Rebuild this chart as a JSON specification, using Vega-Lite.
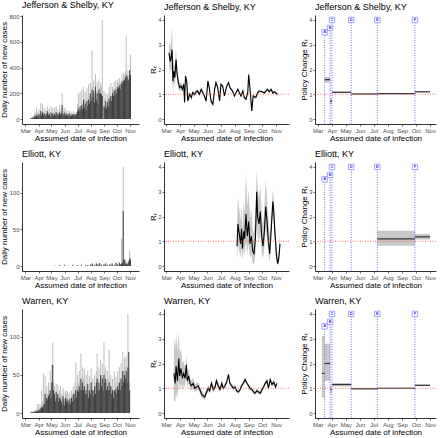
{
"$schema":"https://vega.github.io/schema/vega-lite/v6.json",
"padding":{"left":0,"top":1,"right":1,"bottom":0},
"background":"white",
"config":{
"view":{"stroke":null},
"font":"Liberation Sans",
"title":{"fontSize":9,"fontWeight":"normal","anchor":"start","frame":"group","offset":3,"color":"black"},
"axis":{"grid":false,"domainColor":"black","domainWidth":0.8,"tickColor":"#333","tickSize":2,"tickWidth":0.7,"labelFontSize":6,"labelColor":"#4d4d4d","labelPadding":1,"titleFontSize":8,"titleFontWeight":"normal","titleColor":"black","titlePadding":1,"labelFlush":false,"labelOverlap":false},
"axisY":{"titlePadding":0}
},
"datasets":{
"one":[{"y":1}],
"lab":[{"p":"A","d":"2020-03-16","ly":3.5},{"p":"B","d":"2020-03-28","ly":3.68},{"p":"C","d":"2020-04-01","ly":4.0},{"p":"D","d":"2020-05-13","ly":4.0},{"p":"E","d":"2020-07-09","ly":4.0},{"p":"F","d":"2020-09-29","ly":4.0}],
"pol":[
{"c":"J","d":"2020-03-16","e":"2020-03-28","est":1.59,"lo":1.47,"hi":1.7},
{"c":"J","d":"2020-03-28","e":"2020-04-01","est":0.72,"lo":0.6,"hi":0.84},
{"c":"J","d":"2020-04-01","e":"2020-05-13","est":1.08,"lo":1.05,"hi":1.11},
{"c":"J","d":"2020-05-13","e":"2020-07-09","est":1.01,"lo":0.99,"hi":1.03},
{"c":"J","d":"2020-07-09","e":"2020-09-29","est":1.03,"lo":1.02,"hi":1.04},
{"c":"J","d":"2020-09-29","e":"2020-11-01","est":1.1,"lo":1.08,"hi":1.12},
{"c":"E","d":"2020-07-09","e":"2020-09-29","est":1.1,"lo":0.82,"hi":1.42},
{"c":"E","d":"2020-09-29","e":"2020-11-01","est":1.18,"lo":1.07,"hi":1.3},
{"c":"W","d":"2020-03-10","e":"2020-03-16","est":1.6,"lo":0.62,"hi":3.11},
{"c":"W","d":"2020-03-16","e":"2020-03-28","est":2.0,"lo":1.3,"hi":2.8},
{"c":"W","d":"2020-03-28","e":"2020-04-01","est":0.95,"lo":0.8,"hi":1.1},
{"c":"W","d":"2020-04-01","e":"2020-05-13","est":1.15,"lo":1.08,"hi":1.21},
{"c":"W","d":"2020-05-13","e":"2020-07-09","est":0.98,"lo":0.95,"hi":1.01},
{"c":"W","d":"2020-07-09","e":"2020-09-29","est":1.0,"lo":0.98,"hi":1.02},
{"c":"W","d":"2020-09-29","e":"2020-11-01","est":1.12,"lo":1.09,"hi":1.15}],
"rt":[
{"c":"J","d":"2020-03-07","v":2.67,"lo":2.2,"hi":3.1},
{"c":"J","d":"2020-03-10","v":2.33,"lo":1.9,"hi":2.9},
{"c":"J","d":"2020-03-12","v":2.5,"lo":2.0,"hi":3.2},
{"c":"J","d":"2020-03-14","v":2.8,"lo":1.9,"hi":3.7},
{"c":"J","d":"2020-03-16","v":1.53,"lo":1.05,"hi":2.1},
{"c":"J","d":"2020-03-18","v":1.93,"lo":1.5,"hi":2.45},
{"c":"J","d":"2020-03-20","v":1.67,"lo":1.3,"hi":2.1},
{"c":"J","d":"2020-03-23","v":2.4,"lo":2.0,"hi":2.8},
{"c":"J","d":"2020-03-25","v":1.87,"lo":1.6,"hi":2.2},
{"c":"J","d":"2020-03-28","v":1.47,"lo":1.25,"hi":1.7},
{"c":"J","d":"2020-03-31","v":1.27,"lo":1.1,"hi":1.45},
{"c":"J","d":"2020-04-03","v":1.33,"lo":1.18,"hi":1.48},
{"c":"J","d":"2020-04-06","v":1.2,"lo":1.07,"hi":1.33},
{"c":"J","d":"2020-04-09","v":1.4,"lo":1.27,"hi":1.53},
{"c":"J","d":"2020-04-11","v":0.67,"lo":0.57,"hi":0.77},
{"c":"J","d":"2020-04-13","v":1.73,"lo":1.6,"hi":1.86},
{"c":"J","d":"2020-04-16","v":1.47,"lo":1.35,"hi":1.59},
{"c":"J","d":"2020-04-18","v":0.73,"lo":0.64,"hi":0.82},
{"c":"J","d":"2020-04-22","v":1.0,"lo":0.9,"hi":1.1},
{"c":"J","d":"2020-04-26","v":0.87,"lo":0.78,"hi":0.96},
{"c":"J","d":"2020-04-29","v":1.07,"lo":0.98,"hi":1.16},
{"c":"J","d":"2020-05-03","v":1.0,"lo":0.92,"hi":1.08},
{"c":"J","d":"2020-05-07","v":1.1,"lo":1.02,"hi":1.18},
{"c":"J","d":"2020-05-10","v":1.13,"lo":1.05,"hi":1.21},
{"c":"J","d":"2020-05-14","v":1.0,"lo":0.92,"hi":1.08},
{"c":"J","d":"2020-05-18","v":1.2,"lo":1.12,"hi":1.28},
{"c":"J","d":"2020-05-22","v":1.05,"lo":0.97,"hi":1.13},
{"c":"J","d":"2020-05-25","v":0.93,"lo":0.85,"hi":1.01},
{"c":"J","d":"2020-05-29","v":0.73,"lo":0.65,"hi":0.81},
{"c":"J","d":"2020-06-02","v":1.53,"lo":1.43,"hi":1.63},
{"c":"J","d":"2020-06-05","v":1.27,"lo":1.18,"hi":1.36},
{"c":"J","d":"2020-06-09","v":0.73,"lo":0.65,"hi":0.81},
{"c":"J","d":"2020-06-13","v":0.6,"lo":0.52,"hi":0.68},
{"c":"J","d":"2020-06-17","v":1.2,"lo":1.11,"hi":1.29},
{"c":"J","d":"2020-06-20","v":1.47,"lo":1.38,"hi":1.56},
{"c":"J","d":"2020-06-24","v":1.27,"lo":1.19,"hi":1.35},
{"c":"J","d":"2020-06-28","v":0.73,"lo":0.66,"hi":0.8},
{"c":"J","d":"2020-07-01","v":1.4,"lo":1.33,"hi":1.47},
{"c":"J","d":"2020-07-05","v":1.33,"lo":1.27,"hi":1.39},
{"c":"J","d":"2020-07-09","v":0.93,"lo":0.88,"hi":0.98},
{"c":"J","d":"2020-07-13","v":1.27,"lo":1.21,"hi":1.33},
{"c":"J","d":"2020-07-18","v":1.47,"lo":1.41,"hi":1.53},
{"c":"J","d":"2020-07-21","v":1.27,"lo":1.21,"hi":1.33},
{"c":"J","d":"2020-07-27","v":1.13,"lo":1.08,"hi":1.18},
{"c":"J","d":"2020-07-31","v":0.93,"lo":0.88,"hi":0.98},
{"c":"J","d":"2020-08-04","v":1.07,"lo":1.02,"hi":1.12},
{"c":"J","d":"2020-08-08","v":1.2,"lo":1.15,"hi":1.25},
{"c":"J","d":"2020-08-11","v":1.07,"lo":1.02,"hi":1.12},
{"c":"J","d":"2020-08-15","v":0.93,"lo":0.88,"hi":0.98},
{"c":"J","d":"2020-08-19","v":1.13,"lo":1.08,"hi":1.18},
{"c":"J","d":"2020-08-22","v":0.87,"lo":0.82,"hi":0.92},
{"c":"J","d":"2020-08-26","v":0.8,"lo":0.75,"hi":0.85},
{"c":"J","d":"2020-08-30","v":1.07,"lo":1.01,"hi":1.13},
{"c":"J","d":"2020-09-01","v":1.8,"lo":1.72,"hi":1.88},
{"c":"J","d":"2020-09-04","v":1.2,"lo":1.13,"hi":1.27},
{"c":"J","d":"2020-09-08","v":0.33,"lo":0.27,"hi":0.39},
{"c":"J","d":"2020-09-11","v":0.93,"lo":0.87,"hi":0.99},
{"c":"J","d":"2020-09-17","v":0.87,"lo":0.82,"hi":0.92},
{"c":"J","d":"2020-09-21","v":1.07,"lo":1.02,"hi":1.12},
{"c":"J","d":"2020-09-25","v":1.13,"lo":1.08,"hi":1.18},
{"c":"J","d":"2020-10-01","v":1.1,"lo":1.05,"hi":1.15},
{"c":"J","d":"2020-10-06","v":1.05,"lo":1.0,"hi":1.1},
{"c":"J","d":"2020-10-10","v":1.15,"lo":1.1,"hi":1.2},
{"c":"J","d":"2020-10-13","v":1.2,"lo":1.15,"hi":1.25},
{"c":"J","d":"2020-10-17","v":1.1,"lo":1.05,"hi":1.15},
{"c":"J","d":"2020-10-21","v":1.2,"lo":1.15,"hi":1.25},
{"c":"J","d":"2020-10-25","v":1.05,"lo":1.0,"hi":1.1},
{"c":"J","d":"2020-10-28","v":1.1,"lo":1.05,"hi":1.15},
{"c":"J","d":"2020-11-04","v":1.0,"lo":0.95,"hi":1.05},
{"c":"E","d":"2020-08-06","v":0.8,"lo":0.25,"hi":1.6},
{"c":"E","d":"2020-08-08","v":1.7,"lo":0.9,"hi":2.8},
{"c":"E","d":"2020-08-11","v":1.3,"lo":0.6,"hi":2.3},
{"c":"E","d":"2020-08-14","v":0.9,"lo":0.35,"hi":1.8},
{"c":"E","d":"2020-08-16","v":1.5,"lo":0.8,"hi":2.5},
{"c":"E","d":"2020-08-18","v":0.7,"lo":0.25,"hi":1.5},
{"c":"E","d":"2020-08-21","v":1.4,"lo":0.7,"hi":2.6},
{"c":"E","d":"2020-08-23","v":1.1,"lo":0.45,"hi":2.1},
{"c":"E","d":"2020-08-26","v":2.1,"lo":1.0,"hi":3.8},
{"c":"E","d":"2020-08-29","v":1.2,"lo":0.5,"hi":2.4},
{"c":"E","d":"2020-09-01","v":1.8,"lo":0.9,"hi":3.1},
{"c":"E","d":"2020-09-04","v":0.9,"lo":0.3,"hi":1.9},
{"c":"E","d":"2020-09-07","v":1.2,"lo":0.5,"hi":2.3},
{"c":"E","d":"2020-09-10","v":0.6,"lo":0.1,"hi":1.5},
{"c":"E","d":"2020-09-13","v":0.5,"lo":0.05,"hi":1.3},
{"c":"E","d":"2020-09-16","v":1.1,"lo":0.5,"hi":2.2},
{"c":"E","d":"2020-09-19","v":3.0,"lo":1.9,"hi":3.9},
{"c":"E","d":"2020-09-21","v":2.0,"lo":1.2,"hi":3.2},
{"c":"E","d":"2020-09-24","v":1.7,"lo":1.0,"hi":2.7},
{"c":"E","d":"2020-09-27","v":2.2,"lo":1.4,"hi":3.3},
{"c":"E","d":"2020-09-30","v":1.2,"lo":0.6,"hi":2.1},
{"c":"E","d":"2020-10-03","v":0.8,"lo":0.3,"hi":1.6},
{"c":"E","d":"2020-10-06","v":1.4,"lo":0.7,"hi":2.4},
{"c":"E","d":"2020-10-09","v":2.4,"lo":1.5,"hi":3.5},
{"c":"E","d":"2020-10-12","v":1.8,"lo":1.1,"hi":2.7},
{"c":"E","d":"2020-10-15","v":1.0,"lo":0.45,"hi":1.8},
{"c":"E","d":"2020-10-18","v":0.5,"lo":0.15,"hi":1.1},
{"c":"E","d":"2020-10-25","v":2.6,"lo":2.2,"hi":3.1},
{"c":"E","d":"2020-10-27","v":2.2,"lo":1.8,"hi":2.7},
{"c":"E","d":"2020-10-29","v":1.5,"lo":1.1,"hi":2.0},
{"c":"E","d":"2020-10-31","v":1.0,"lo":0.6,"hi":1.5},
{"c":"E","d":"2020-11-02","v":0.4,"lo":0.15,"hi":0.8},
{"c":"E","d":"2020-11-05","v":0.1,"lo":0.02,"hi":0.3},
{"c":"E","d":"2020-11-07","v":0.3,"lo":0.1,"hi":0.6},
{"c":"E","d":"2020-11-10","v":0.9,"lo":0.5,"hi":1.3},
{"c":"W","d":"2020-03-18","v":1.6,"lo":0.5,"hi":3.0},
{"c":"W","d":"2020-03-21","v":1.2,"lo":0.45,"hi":2.6},
{"c":"W","d":"2020-03-23","v":1.9,"lo":0.8,"hi":3.2},
{"c":"W","d":"2020-03-26","v":1.3,"lo":0.6,"hi":2.5},
{"c":"W","d":"2020-03-29","v":2.2,"lo":1.3,"hi":3.3},
{"c":"W","d":"2020-03-31","v":1.5,"lo":0.9,"hi":2.4},
{"c":"W","d":"2020-04-03","v":1.8,"lo":1.2,"hi":2.6},
{"c":"W","d":"2020-04-06","v":1.4,"lo":0.95,"hi":2.0},
{"c":"W","d":"2020-04-09","v":1.6,"lo":1.15,"hi":2.1},
{"c":"W","d":"2020-04-12","v":1.4,"lo":1.05,"hi":1.8},
{"c":"W","d":"2020-04-15","v":1.95,"lo":1.55,"hi":2.35},
{"c":"W","d":"2020-04-17","v":1.3,"lo":1.0,"hi":1.6},
{"c":"W","d":"2020-04-20","v":1.5,"lo":1.22,"hi":1.8},
{"c":"W","d":"2020-04-23","v":1.2,"lo":0.98,"hi":1.45},
{"c":"W","d":"2020-04-26","v":1.1,"lo":0.9,"hi":1.32},
{"c":"W","d":"2020-04-30","v":1.2,"lo":1.0,"hi":1.4},
{"c":"W","d":"2020-05-04","v":1.0,"lo":0.85,"hi":1.17},
{"c":"W","d":"2020-05-08","v":1.05,"lo":0.9,"hi":1.2},
{"c":"W","d":"2020-05-11","v":1.1,"lo":0.95,"hi":1.25},
{"c":"W","d":"2020-05-15","v":0.95,"lo":0.8,"hi":1.1},
{"c":"W","d":"2020-05-19","v":0.75,"lo":0.62,"hi":0.9},
{"c":"W","d":"2020-05-22","v":0.7,"lo":0.58,"hi":0.84},
{"c":"W","d":"2020-05-26","v":0.65,"lo":0.53,"hi":0.78},
{"c":"W","d":"2020-05-30","v":0.85,"lo":0.72,"hi":0.98},
{"c":"W","d":"2020-06-03","v":1.0,"lo":0.87,"hi":1.13},
{"c":"W","d":"2020-06-06","v":0.9,"lo":0.78,"hi":1.02},
{"c":"W","d":"2020-06-10","v":1.2,"lo":1.06,"hi":1.34},
{"c":"W","d":"2020-06-14","v":0.95,"lo":0.83,"hi":1.07},
{"c":"W","d":"2020-06-18","v":1.05,"lo":0.93,"hi":1.17},
{"c":"W","d":"2020-06-21","v":1.3,"lo":1.17,"hi":1.43},
{"c":"W","d":"2020-06-25","v":1.1,"lo":0.98,"hi":1.22},
{"c":"W","d":"2020-06-29","v":0.95,"lo":0.85,"hi":1.05},
{"c":"W","d":"2020-07-03","v":1.2,"lo":1.09,"hi":1.31},
{"c":"W","d":"2020-07-06","v":1.0,"lo":0.9,"hi":1.1},
{"c":"W","d":"2020-07-10","v":1.1,"lo":1.0,"hi":1.2},
{"c":"W","d":"2020-07-14","v":1.25,"lo":1.14,"hi":1.36},
{"c":"W","d":"2020-07-18","v":1.55,"lo":1.43,"hi":1.67},
{"c":"W","d":"2020-07-21","v":1.2,"lo":1.1,"hi":1.3},
{"c":"W","d":"2020-07-25","v":1.1,"lo":1.0,"hi":1.2},
{"c":"W","d":"2020-07-29","v":1.0,"lo":0.91,"hi":1.09},
{"c":"W","d":"2020-08-02","v":1.05,"lo":0.96,"hi":1.14},
{"c":"W","d":"2020-08-05","v":0.9,"lo":0.82,"hi":0.98},
{"c":"W","d":"2020-08-09","v":0.85,"lo":0.77,"hi":0.93},
{"c":"W","d":"2020-08-13","v":0.95,"lo":0.87,"hi":1.03},
{"c":"W","d":"2020-08-16","v":1.1,"lo":1.01,"hi":1.19},
{"c":"W","d":"2020-08-20","v":1.2,"lo":1.11,"hi":1.29},
{"c":"W","d":"2020-08-24","v":1.35,"lo":1.25,"hi":1.45},
{"c":"W","d":"2020-08-28","v":1.2,"lo":1.11,"hi":1.29},
{"c":"W","d":"2020-09-01","v":1.1,"lo":1.02,"hi":1.18},
{"c":"W","d":"2020-09-04","v":1.0,"lo":0.92,"hi":1.08},
{"c":"W","d":"2020-09-08","v":0.95,"lo":0.87,"hi":1.03},
{"c":"W","d":"2020-09-12","v":0.85,"lo":0.77,"hi":0.93},
{"c":"W","d":"2020-09-15","v":0.8,"lo":0.72,"hi":0.88},
{"c":"W","d":"2020-09-19","v":0.9,"lo":0.82,"hi":0.98},
{"c":"W","d":"2020-09-23","v":0.85,"lo":0.77,"hi":0.93},
{"c":"W","d":"2020-09-27","v":0.8,"lo":0.72,"hi":0.88},
{"c":"W","d":"2020-10-01","v":0.95,"lo":0.87,"hi":1.03},
{"c":"W","d":"2020-10-04","v":1.05,"lo":0.97,"hi":1.13},
{"c":"W","d":"2020-10-08","v":1.2,"lo":1.11,"hi":1.29},
{"c":"W","d":"2020-10-12","v":1.3,"lo":1.2,"hi":1.4},
{"c":"W","d":"2020-10-15","v":1.0,"lo":0.92,"hi":1.08},
{"c":"W","d":"2020-10-19","v":1.35,"lo":1.25,"hi":1.45},
{"c":"W","d":"2020-10-23","v":1.15,"lo":1.06,"hi":1.24},
{"c":"W","d":"2020-10-27","v":1.25,"lo":1.15,"hi":1.35},
{"c":"W","d":"2020-10-31","v":1.05,"lo":0.97,"hi":1.13},
{"c":"W","d":"2020-11-03","v":1.2,"lo":1.1,"hi":1.3}],
"bars":[
{"c":"J","d":"2020-03-09","l":2,"k":0},{"c":"J","d":"2020-03-11","l":5,"k":1},{"c":"J","d":"2020-03-13","l":8,"k":3},{"c":"J","d":"2020-03-15","l":15,"k":5},{"c":"J","d":"2020-03-17","l":12,"k":8},{"c":"J","d":"2020-03-19","l":25,"k":10},{"c":"J","d":"2020-03-21","l":30,"k":15},{"c":"J","d":"2020-03-23","l":60,"k":20},{"c":"J","d":"2020-03-25","l":40,"k":25},{"c":"J","d":"2020-03-27","l":90,"k":30},{"c":"J","d":"2020-03-29","l":50,"k":20},{"c":"J","d":"2020-03-31","l":70,"k":35},
{"c":"J","d":"2020-04-02","l":30,"k":20},{"c":"J","d":"2020-04-04","l":80,"k":40},{"c":"J","d":"2020-04-06","l":125,"k":60},{"c":"J","d":"2020-04-08","l":60,"k":30},{"c":"J","d":"2020-04-10","l":115,"k":50},{"c":"J","d":"2020-04-12","l":50,"k":30},{"c":"J","d":"2020-04-14","l":90,"k":45},{"c":"J","d":"2020-04-16","l":40,"k":20},{"c":"J","d":"2020-04-18","l":70,"k":35},{"c":"J","d":"2020-04-20","l":60,"k":40},{"c":"J","d":"2020-04-22","l":100,"k":60},{"c":"J","d":"2020-04-24","l":50,"k":30},{"c":"J","d":"2020-04-26","l":80,"k":40},{"c":"J","d":"2020-04-28","l":30,"k":20},{"c":"J","d":"2020-04-30","l":100,"k":50},
{"c":"J","d":"2020-05-02","l":55,"k":30},{"c":"J","d":"2020-05-04","l":85,"k":45},{"c":"J","d":"2020-05-06","l":40,"k":25},{"c":"J","d":"2020-05-08","l":90,"k":40},{"c":"J","d":"2020-05-10","l":60,"k":30},{"c":"J","d":"2020-05-12","l":100,"k":55},{"c":"J","d":"2020-05-14","l":45,"k":25},{"c":"J","d":"2020-05-16","l":75,"k":40},{"c":"J","d":"2020-05-18","l":50,"k":30},{"c":"J","d":"2020-05-20","l":110,"k":50},{"c":"J","d":"2020-05-22","l":60,"k":35},{"c":"J","d":"2020-05-24","l":80,"k":45},{"c":"J","d":"2020-05-26","l":200,"k":110},{"c":"J","d":"2020-05-28","l":90,"k":40},{"c":"J","d":"2020-05-30","l":60,"k":30},
{"c":"J","d":"2020-06-01","l":85,"k":50},{"c":"J","d":"2020-06-03","l":40,"k":25},{"c":"J","d":"2020-06-05","l":70,"k":40},{"c":"J","d":"2020-06-07","l":45,"k":30},{"c":"J","d":"2020-06-09","l":60,"k":35},{"c":"J","d":"2020-06-11","l":40,"k":25},{"c":"J","d":"2020-06-13","l":65,"k":45},{"c":"J","d":"2020-06-15","l":35,"k":20},{"c":"J","d":"2020-06-17","l":50,"k":30},{"c":"J","d":"2020-06-19","l":45,"k":30},{"c":"J","d":"2020-06-21","l":60,"k":40},{"c":"J","d":"2020-06-23","l":40,"k":30},{"c":"J","d":"2020-06-25","l":50,"k":35},{"c":"J","d":"2020-06-27","l":45,"k":30},{"c":"J","d":"2020-06-29","l":55,"k":40},
{"c":"J","d":"2020-07-01","l":120,"k":60},{"c":"J","d":"2020-07-03","l":200,"k":80},{"c":"J","d":"2020-07-05","l":90,"k":60},{"c":"J","d":"2020-07-07","l":210,"k":100},{"c":"J","d":"2020-07-09","l":100,"k":70},{"c":"J","d":"2020-07-11","l":230,"k":110},{"c":"J","d":"2020-07-13","l":120,"k":80},{"c":"J","d":"2020-07-15","l":250,"k":150},{"c":"J","d":"2020-07-17","l":150,"k":90},{"c":"J","d":"2020-07-19","l":210,"k":120},{"c":"J","d":"2020-07-21","l":120,"k":70},{"c":"J","d":"2020-07-23","l":240,"k":140},{"c":"J","d":"2020-07-25","l":160,"k":100},{"c":"J","d":"2020-07-27","l":270,"k":150},{"c":"J","d":"2020-07-29","l":180,"k":120},{"c":"J","d":"2020-07-31","l":280,"k":200},
{"c":"J","d":"2020-08-02","l":200,"k":140},{"c":"J","d":"2020-08-04","l":530,"k":230},{"c":"J","d":"2020-08-06","l":250,"k":170},{"c":"J","d":"2020-08-08","l":300,"k":220},{"c":"J","d":"2020-08-10","l":200,"k":130},{"c":"J","d":"2020-08-12","l":350,"k":250},{"c":"J","d":"2020-08-14","l":220,"k":150},{"c":"J","d":"2020-08-16","l":290,"k":200},{"c":"J","d":"2020-08-18","l":180,"k":120},{"c":"J","d":"2020-08-20","l":310,"k":230},{"c":"J","d":"2020-08-22","l":240,"k":200},{"c":"J","d":"2020-08-24","l":280,"k":200},{"c":"J","d":"2020-08-26","l":250,"k":190},{"c":"J","d":"2020-08-28","l":770,"k":180},{"c":"J","d":"2020-08-30","l":0,"k":0},
{"c":"J","d":"2020-09-01","l":220,"k":100},{"c":"J","d":"2020-09-03","l":160,"k":90},{"c":"J","d":"2020-09-05","l":200,"k":140},{"c":"J","d":"2020-09-07","l":100,"k":80},{"c":"J","d":"2020-09-09","l":190,"k":130},{"c":"J","d":"2020-09-11","l":150,"k":100},{"c":"J","d":"2020-09-13","l":250,"k":160},{"c":"J","d":"2020-09-15","l":200,"k":140},{"c":"J","d":"2020-09-17","l":280,"k":180},{"c":"J","d":"2020-09-19","l":180,"k":140},{"c":"J","d":"2020-09-21","l":250,"k":200},{"c":"J","d":"2020-09-23","l":230,"k":180},{"c":"J","d":"2020-09-25","l":290,"k":220},{"c":"J","d":"2020-09-27","l":210,"k":190},{"c":"J","d":"2020-09-29","l":300,"k":230},
{"c":"J","d":"2020-10-01","l":250,"k":200},{"c":"J","d":"2020-10-03","l":310,"k":250},{"c":"J","d":"2020-10-05","l":280,"k":240},{"c":"J","d":"2020-10-07","l":320,"k":260},{"c":"J","d":"2020-10-09","l":270,"k":230},{"c":"J","d":"2020-10-11","l":300,"k":270},{"c":"J","d":"2020-10-13","l":350,"k":290},{"c":"J","d":"2020-10-15","l":310,"k":280},{"c":"J","d":"2020-10-17","l":360,"k":300},{"c":"J","d":"2020-10-19","l":330,"k":300},{"c":"J","d":"2020-10-21","l":370,"k":320},{"c":"J","d":"2020-10-23","l":650,"k":340},{"c":"J","d":"2020-10-25","l":350,"k":330},{"c":"J","d":"2020-10-27","l":380,"k":310},{"c":"J","d":"2020-10-29","l":340,"k":300},{"c":"J","d":"2020-10-31","l":360,"k":380},{"c":"J","d":"2020-11-02","l":500,"k":340},
{"c":"E","d":"2020-05-10","l":1,"k":0},{"c":"E","d":"2020-05-20","l":1,"k":1},{"c":"E","d":"2020-06-01","l":2,"k":1},{"c":"E","d":"2020-06-10","l":1,"k":0},{"c":"E","d":"2020-06-20","l":2,"k":1},{"c":"E","d":"2020-07-01","l":1,"k":1},{"c":"E","d":"2020-07-10","l":3,"k":1},{"c":"E","d":"2020-07-20","l":2,"k":1},{"c":"E","d":"2020-07-25","l":1,"k":1},{"c":"E","d":"2020-08-01","l":3,"k":2},{"c":"E","d":"2020-08-05","l":4,"k":3},{"c":"E","d":"2020-08-10","l":2,"k":1},{"c":"E","d":"2020-08-14","l":5,"k":3},{"c":"E","d":"2020-08-18","l":3,"k":2},{"c":"E","d":"2020-08-22","l":4,"k":4},{"c":"E","d":"2020-08-26","l":2,"k":1},{"c":"E","d":"2020-09-01","l":3,"k":2},{"c":"E","d":"2020-09-05","l":5,"k":3},{"c":"E","d":"2020-09-10","l":2,"k":1},{"c":"E","d":"2020-09-15","l":3,"k":2},{"c":"E","d":"2020-09-20","l":4,"k":3},{"c":"E","d":"2020-09-25","l":2,"k":1},{"c":"E","d":"2020-09-29","l":5,"k":4},{"c":"E","d":"2020-10-03","l":3,"k":2},{"c":"E","d":"2020-10-07","l":6,"k":4},{"c":"E","d":"2020-10-10","l":3,"k":2},{"c":"E","d":"2020-10-12","l":38,"k":3},{"c":"E","d":"2020-10-14","l":8,"k":5},{"c":"E","d":"2020-10-16","l":135,"k":75},{"c":"E","d":"2020-10-18","l":10,"k":8},{"c":"E","d":"2020-10-20","l":6,"k":9},{"c":"E","d":"2020-10-22","l":4,"k":3},{"c":"E","d":"2020-10-24","l":5,"k":3},{"c":"E","d":"2020-10-26","l":3,"k":2},{"c":"E","d":"2020-10-28","l":8,"k":6},{"c":"E","d":"2020-10-31","l":22,"k":10},{"c":"E","d":"2020-11-02","l":12,"k":8},
{"c":"W","d":"2020-03-13","l":1,"k":0},{"c":"W","d":"2020-03-15","l":2,"k":1},{"c":"W","d":"2020-03-17","l":1,"k":1},{"c":"W","d":"2020-03-19","l":3,"k":1},{"c":"W","d":"2020-03-21","l":2,"k":1},{"c":"W","d":"2020-03-23","l":4,"k":2},{"c":"W","d":"2020-03-25","l":3,"k":2},{"c":"W","d":"2020-03-27","l":5,"k":2},{"c":"W","d":"2020-03-29","l":12,"k":3},{"c":"W","d":"2020-03-31","l":6,"k":3},
{"c":"W","d":"2020-04-02","l":12,"k":4},{"c":"W","d":"2020-04-04","l":8,"k":5},{"c":"W","d":"2020-04-06","l":11,"k":6},{"c":"W","d":"2020-04-08","l":30,"k":8},{"c":"W","d":"2020-04-10","l":15,"k":7},{"c":"W","d":"2020-04-12","l":52,"k":10},{"c":"W","d":"2020-04-14","l":20,"k":12},{"c":"W","d":"2020-04-16","l":48,"k":25},{"c":"W","d":"2020-04-18","l":30,"k":15},{"c":"W","d":"2020-04-20","l":35,"k":20},{"c":"W","d":"2020-04-22","l":25,"k":18},{"c":"W","d":"2020-04-24","l":40,"k":22},{"c":"W","d":"2020-04-26","l":30,"k":25},{"c":"W","d":"2020-04-28","l":55,"k":30},{"c":"W","d":"2020-04-30","l":35,"k":20},
{"c":"W","d":"2020-05-02","l":63,"k":40},{"c":"W","d":"2020-05-04","l":93,"k":63},{"c":"W","d":"2020-05-06","l":40,"k":30},{"c":"W","d":"2020-05-08","l":35,"k":25},{"c":"W","d":"2020-05-10","l":20,"k":15},{"c":"W","d":"2020-05-12","l":38,"k":28},{"c":"W","d":"2020-05-14","l":28,"k":20},{"c":"W","d":"2020-05-16","l":37,"k":25},{"c":"W","d":"2020-05-18","l":22,"k":15},{"c":"W","d":"2020-05-20","l":30,"k":20},{"c":"W","d":"2020-05-22","l":35,"k":18},{"c":"W","d":"2020-05-24","l":25,"k":15},{"c":"W","d":"2020-05-26","l":20,"k":12},{"c":"W","d":"2020-05-28","l":33,"k":22},{"c":"W","d":"2020-05-30","l":28,"k":18},
{"c":"W","d":"2020-06-01","l":15,"k":10},{"c":"W","d":"2020-06-03","l":30,"k":20},{"c":"W","d":"2020-06-05","l":25,"k":15},{"c":"W","d":"2020-06-07","l":29,"k":18},{"c":"W","d":"2020-06-09","l":18,"k":12},{"c":"W","d":"2020-06-11","l":25,"k":15},{"c":"W","d":"2020-06-13","l":27,"k":18},{"c":"W","d":"2020-06-15","l":20,"k":12},{"c":"W","d":"2020-06-17","l":30,"k":20},{"c":"W","d":"2020-06-19","l":22,"k":15},{"c":"W","d":"2020-06-21","l":35,"k":25},{"c":"W","d":"2020-06-23","l":28,"k":18},{"c":"W","d":"2020-06-25","l":40,"k":25},{"c":"W","d":"2020-06-27","l":67,"k":30},{"c":"W","d":"2020-06-29","l":35,"k":20},
{"c":"W","d":"2020-07-01","l":50,"k":30},{"c":"W","d":"2020-07-03","l":40,"k":28},{"c":"W","d":"2020-07-05","l":55,"k":35},{"c":"W","d":"2020-07-07","l":45,"k":30},{"c":"W","d":"2020-07-09","l":78,"k":45},{"c":"W","d":"2020-07-11","l":40,"k":30},{"c":"W","d":"2020-07-13","l":60,"k":40},{"c":"W","d":"2020-07-15","l":45,"k":30},{"c":"W","d":"2020-07-17","l":58,"k":35},{"c":"W","d":"2020-07-19","l":35,"k":25},{"c":"W","d":"2020-07-21","l":50,"k":30},{"c":"W","d":"2020-07-23","l":40,"k":25},{"c":"W","d":"2020-07-25","l":55,"k":38},{"c":"W","d":"2020-07-27","l":30,"k":20},{"c":"W","d":"2020-07-29","l":48,"k":30},{"c":"W","d":"2020-07-31","l":35,"k":25},
{"c":"W","d":"2020-08-02","l":58,"k":40},{"c":"W","d":"2020-08-04","l":40,"k":30},{"c":"W","d":"2020-08-06","l":45,"k":30},{"c":"W","d":"2020-08-08","l":30,"k":22},{"c":"W","d":"2020-08-10","l":50,"k":35},{"c":"W","d":"2020-08-12","l":35,"k":25},{"c":"W","d":"2020-08-14","l":55,"k":40},{"c":"W","d":"2020-08-16","l":78,"k":45},{"c":"W","d":"2020-08-18","l":45,"k":30},{"c":"W","d":"2020-08-20","l":60,"k":40},{"c":"W","d":"2020-08-22","l":40,"k":30},{"c":"W","d":"2020-08-24","l":70,"k":50},{"c":"W","d":"2020-08-26","l":50,"k":35},{"c":"W","d":"2020-08-28","l":65,"k":45},{"c":"W","d":"2020-08-30","l":45,"k":30},
{"c":"W","d":"2020-09-01","l":93,"k":50},{"c":"W","d":"2020-09-03","l":55,"k":40},{"c":"W","d":"2020-09-05","l":60,"k":45},{"c":"W","d":"2020-09-07","l":40,"k":30},{"c":"W","d":"2020-09-09","l":55,"k":35},{"c":"W","d":"2020-09-11","l":45,"k":30},{"c":"W","d":"2020-09-13","l":83,"k":40},{"c":"W","d":"2020-09-15","l":40,"k":30},{"c":"W","d":"2020-09-17","l":50,"k":35},{"c":"W","d":"2020-09-19","l":35,"k":25},{"c":"W","d":"2020-09-21","l":45,"k":30},{"c":"W","d":"2020-09-23","l":30,"k":20},{"c":"W","d":"2020-09-25","l":55,"k":30},{"c":"W","d":"2020-09-27","l":40,"k":28},{"c":"W","d":"2020-09-29","l":48,"k":32},
{"c":"W","d":"2020-10-01","l":35,"k":25},{"c":"W","d":"2020-10-03","l":55,"k":35},{"c":"W","d":"2020-10-05","l":40,"k":30},{"c":"W","d":"2020-10-07","l":60,"k":40},{"c":"W","d":"2020-10-09","l":45,"k":30},{"c":"W","d":"2020-10-11","l":65,"k":45},{"c":"W","d":"2020-10-13","l":50,"k":35},{"c":"W","d":"2020-10-15","l":80,"k":55},{"c":"W","d":"2020-10-17","l":55,"k":40},{"c":"W","d":"2020-10-19","l":72,"k":50},{"c":"W","d":"2020-10-21","l":60,"k":45},{"c":"W","d":"2020-10-23","l":75,"k":55},{"c":"W","d":"2020-10-25","l":50,"k":40},{"c":"W","d":"2020-10-27","l":130,"k":60},{"c":"W","d":"2020-10-29","l":60,"k":80},{"c":"W","d":"2020-10-31","l":40,"k":30}]
},
"columns":3,
"spacing":{"row":8,"column":10},
"concat":[
{"width":117,"height":109,"title":"Jefferson & Shelby, KY","data":{"name":"bars"},"transform":[{"filter":"datum.c=='J'"}],
"layer":[
{"mark":{"type":"bar","width":1,"color":"#bdbdbd"},"encoding":{"x":{"field":"d","type":"temporal","scale":{"type":"utc","domain":[1582329600000,1606003200000],"nice":false,"padding":0},"axis":{"title":"Assumed date of infection","format":"%b","tickCount":"month"}},"y":{"field":"l","type":"quantitative","scale":{"domain":[-38.5,808.5],"nice":false,"zero":false},"axis":{"title":"Daily number of new cases","values":[0,200,400,600,800]}},"y2":{"datum":0}}},
{"mark":{"type":"bar","width":1,"color":"#3d3d3d"},"encoding":{"x":{"field":"d","type":"temporal","scale":{"type":"utc","domain":[1582329600000,1606003200000],"nice":false,"padding":0},"axis":{"title":"Assumed date of infection","format":"%b","tickCount":"month"}},"y":{"field":"k","type":"quantitative","scale":{"domain":[-38.5,808.5],"nice":false,"zero":false},"axis":{"title":"Daily number of new cases","values":[0,200,400,600,800]}},"y2":{"datum":0}}}
]},
{"width":125,"height":109,"title":"Jefferson & Shelby, KY","data":{"name":"rt"},"transform":[{"filter":"datum.c=='J'"}],
"layer":[
{"mark":{"type":"area","color":"#c8c8c8"},"encoding":{"x":{"field":"d","type":"temporal","scale":{"type":"utc","domain":[1582588800000,1606694400000],"nice":false},"axis":{"title":"Assumed date of infection","format":"%b","tickCount":"month"}},"y":{"field":"lo","type":"quantitative","scale":{"domain":[-0.2,4.2],"nice":false,"zero":false},"axis":{"title":"Rₜ","values":[0,1,2,3,4]}},"y2":{"field":"hi"}}},
{"mark":{"type":"line","color":"black","strokeWidth":1.1},"encoding":{"x":{"field":"d","type":"temporal","scale":{"type":"utc","domain":[1582588800000,1606694400000],"nice":false},"axis":{"title":"Assumed date of infection","format":"%b","tickCount":"month"}},"y":{"field":"v","type":"quantitative","scale":{"domain":[-0.2,4.2],"nice":false,"zero":false},"axis":{"title":"Rₜ","values":[0,1,2,3,4]}}}},
{"data":{"name":"one"},"mark":{"type":"rule","color":"#ff5a5a","strokeDash":[1,1.5],"strokeWidth":0.9},"encoding":{"y":{"field":"y","type":"quantitative","scale":{"domain":[-0.2,4.2],"nice":false,"zero":false},"axis":{"title":"Rₜ","values":[0,1,2,3,4]}}}}
]},
{"width":121,"height":109,"title":"Jefferson & Shelby, KY",
"layer":[
{"data":{"name":"pol"},"transform":[{"filter":"datum.c=='J'"}],"mark":{"type":"rect","color":"#c8c8c8"},"encoding":{"x":{"field":"d","type":"temporal","scale":{"type":"utc","domain":[1582502400000,1605312000000],"nice":false},"axis":{"title":"Assumed date of infection","format":"%b","tickCount":"month"}},"x2":{"field":"e"},"y":{"field":"lo","type":"quantitative","scale":{"domain":[-0.2,4.2],"nice":false,"zero":false},"axis":{"title":"Policy Change Rₜ","values":[0,1,2,3,4]}},"y2":{"field":"hi"}}},
{"data":{"name":"pol"},"transform":[{"filter":"datum.c=='J'"}],"mark":{"type":"rule","color":"#333333","strokeWidth":1.2},"encoding":{"x":{"field":"d","type":"temporal","scale":{"type":"utc","domain":[1582502400000,1605312000000],"nice":false},"axis":{"title":"Assumed date of infection","format":"%b","tickCount":"month"}},"x2":{"field":"e"},"y":{"field":"est","type":"quantitative","scale":{"domain":[-0.2,4.2],"nice":false,"zero":false},"axis":{"title":"Policy Change Rₜ","values":[0,1,2,3,4]}}}},
{"data":{"name":"one"},"mark":{"type":"rule","color":"#ff5a5a","strokeDash":[1,1.5],"strokeWidth":0.9},"encoding":{"y":{"field":"y","type":"quantitative","scale":{"domain":[-0.2,4.2],"nice":false,"zero":false},"axis":{"title":"Policy Change Rₜ","values":[0,1,2,3,4]}}}},
{"data":{"name":"lab"},"mark":{"type":"rule","color":"#5a5aff","strokeDash":[1,1.5],"strokeWidth":0.9},"encoding":{"x":{"field":"d","type":"temporal","scale":{"type":"utc","domain":[1582502400000,1605312000000],"nice":false},"axis":{"title":"Assumed date of infection","format":"%b","tickCount":"month"}},"y":{"field":"ly","type":"quantitative","scale":{"domain":[-0.2,4.2],"nice":false,"zero":false},"axis":{"title":"Policy Change Rₜ","values":[0,1,2,3,4]}},"y2":{"datum":-0.2}}},
{"data":{"name":"lab"},"mark":{"type":"point","shape":"square","size":30,"filled":true,"fill":"white","stroke":"#8080ff","strokeWidth":0.7,"opacity":1},"encoding":{"x":{"field":"d","type":"temporal","scale":{"type":"utc","domain":[1582502400000,1605312000000],"nice":false},"axis":{"title":"Assumed date of infection","format":"%b","tickCount":"month"}},"y":{"field":"ly","type":"quantitative","scale":{"domain":[-0.2,4.2],"nice":false,"zero":false},"axis":{"title":"Policy Change Rₜ","values":[0,1,2,3,4]}}}},
{"data":{"name":"lab"},"mark":{"type":"text","fontSize":4,"fontWeight":"bold","color":"#3030e0","baseline":"middle","align":"center"},"encoding":{"x":{"field":"d","type":"temporal","scale":{"type":"utc","domain":[1582502400000,1605312000000],"nice":false},"axis":{"title":"Assumed date of infection","format":"%b","tickCount":"month"}},"y":{"field":"ly","type":"quantitative","scale":{"domain":[-0.2,4.2],"nice":false,"zero":false},"axis":{"title":"Policy Change Rₜ","values":[0,1,2,3,4]}},"text":{"field":"p"}}}
]},
{"width":117,"height":109,"title":"Elliott, KY","data":{"name":"bars"},"transform":[{"filter":"datum.c=='E'"}],
"layer":[
{"mark":{"type":"bar","width":1,"color":"#bdbdbd"},"encoding":{"x":{"field":"d","type":"temporal","scale":{"type":"utc","domain":[1582329600000,1606003200000],"nice":false,"padding":0},"axis":{"title":"Assumed date of infection","format":"%b","tickCount":"month"}},"y":{"field":"l","type":"quantitative","scale":{"domain":[-6.75,141.75],"nice":false,"zero":false},"axis":{"title":"Daily number of new cases","values":[0,50,100]}},"y2":{"datum":0}}},
{"mark":{"type":"bar","width":1,"color":"#3d3d3d"},"encoding":{"x":{"field":"d","type":"temporal","scale":{"type":"utc","domain":[1582329600000,1606003200000],"nice":false,"padding":0},"axis":{"title":"Assumed date of infection","format":"%b","tickCount":"month"}},"y":{"field":"k","type":"quantitative","scale":{"domain":[-6.75,141.75],"nice":false,"zero":false},"axis":{"title":"Daily number of new cases","values":[0,50,100]}},"y2":{"datum":0}}}
]},
{"width":125,"height":109,"title":"Elliott, KY","data":{"name":"rt"},"transform":[{"filter":"datum.c=='E'"}],
"layer":[
{"mark":{"type":"area","color":"#c8c8c8"},"encoding":{"x":{"field":"d","type":"temporal","scale":{"type":"utc","domain":[1582588800000,1606694400000],"nice":false},"axis":{"title":"Assumed date of infection","format":"%b","tickCount":"month"}},"y":{"field":"lo","type":"quantitative","scale":{"domain":[-0.2,4.2],"nice":false,"zero":false},"axis":{"title":"Rₜ","values":[0,1,2,3,4]}},"y2":{"field":"hi"}}},
{"mark":{"type":"line","color":"black","strokeWidth":1.1},"encoding":{"x":{"field":"d","type":"temporal","scale":{"type":"utc","domain":[1582588800000,1606694400000],"nice":false},"axis":{"title":"Assumed date of infection","format":"%b","tickCount":"month"}},"y":{"field":"v","type":"quantitative","scale":{"domain":[-0.2,4.2],"nice":false,"zero":false},"axis":{"title":"Rₜ","values":[0,1,2,3,4]}}}},
{"data":{"name":"one"},"mark":{"type":"rule","color":"#ff5a5a","strokeDash":[1,1.5],"strokeWidth":0.9},"encoding":{"y":{"field":"y","type":"quantitative","scale":{"domain":[-0.2,4.2],"nice":false,"zero":false},"axis":{"title":"Rₜ","values":[0,1,2,3,4]}}}}
]},
{"width":121,"height":109,"title":"Elliott, KY",
"layer":[
{"data":{"name":"pol"},"transform":[{"filter":"datum.c=='E'"}],"mark":{"type":"rect","color":"#c8c8c8"},"encoding":{"x":{"field":"d","type":"temporal","scale":{"type":"utc","domain":[1582502400000,1605312000000],"nice":false},"axis":{"title":"Assumed date of infection","format":"%b","tickCount":"month"}},"x2":{"field":"e"},"y":{"field":"lo","type":"quantitative","scale":{"domain":[-0.2,4.2],"nice":false,"zero":false},"axis":{"title":"Policy Change Rₜ","values":[0,1,2,3,4]}},"y2":{"field":"hi"}}},
{"data":{"name":"pol"},"transform":[{"filter":"datum.c=='E'"}],"mark":{"type":"rule","color":"#333333","strokeWidth":1.2},"encoding":{"x":{"field":"d","type":"temporal","scale":{"type":"utc","domain":[1582502400000,1605312000000],"nice":false},"axis":{"title":"Assumed date of infection","format":"%b","tickCount":"month"}},"x2":{"field":"e"},"y":{"field":"est","type":"quantitative","scale":{"domain":[-0.2,4.2],"nice":false,"zero":false},"axis":{"title":"Policy Change Rₜ","values":[0,1,2,3,4]}}}},
{"data":{"name":"one"},"mark":{"type":"rule","color":"#ff5a5a","strokeDash":[1,1.5],"strokeWidth":0.9},"encoding":{"y":{"field":"y","type":"quantitative","scale":{"domain":[-0.2,4.2],"nice":false,"zero":false},"axis":{"title":"Policy Change Rₜ","values":[0,1,2,3,4]}}}},
{"data":{"name":"lab"},"mark":{"type":"rule","color":"#5a5aff","strokeDash":[1,1.5],"strokeWidth":0.9},"encoding":{"x":{"field":"d","type":"temporal","scale":{"type":"utc","domain":[1582502400000,1605312000000],"nice":false},"axis":{"title":"Assumed date of infection","format":"%b","tickCount":"month"}},"y":{"field":"ly","type":"quantitative","scale":{"domain":[-0.2,4.2],"nice":false,"zero":false},"axis":{"title":"Policy Change Rₜ","values":[0,1,2,3,4]}},"y2":{"datum":-0.2}}},
{"data":{"name":"lab"},"mark":{"type":"point","shape":"square","size":30,"filled":true,"fill":"white","stroke":"#8080ff","strokeWidth":0.7,"opacity":1},"encoding":{"x":{"field":"d","type":"temporal","scale":{"type":"utc","domain":[1582502400000,1605312000000],"nice":false},"axis":{"title":"Assumed date of infection","format":"%b","tickCount":"month"}},"y":{"field":"ly","type":"quantitative","scale":{"domain":[-0.2,4.2],"nice":false,"zero":false},"axis":{"title":"Policy Change Rₜ","values":[0,1,2,3,4]}}}},
{"data":{"name":"lab"},"mark":{"type":"text","fontSize":4,"fontWeight":"bold","color":"#3030e0","baseline":"middle","align":"center"},"encoding":{"x":{"field":"d","type":"temporal","scale":{"type":"utc","domain":[1582502400000,1605312000000],"nice":false},"axis":{"title":"Assumed date of infection","format":"%b","tickCount":"month"}},"y":{"field":"ly","type":"quantitative","scale":{"domain":[-0.2,4.2],"nice":false,"zero":false},"axis":{"title":"Policy Change Rₜ","values":[0,1,2,3,4]}},"text":{"field":"p"}}}
]},
{"width":117,"height":109,"title":"Warren, KY","data":{"name":"bars"},"transform":[{"filter":"datum.c=='W'"}],
"layer":[
{"mark":{"type":"bar","width":1,"color":"#bdbdbd"},"encoding":{"x":{"field":"d","type":"temporal","scale":{"type":"utc","domain":[1582329600000,1606003200000],"nice":false,"padding":0},"axis":{"title":"Assumed date of infection","format":"%b","tickCount":"month"}},"y":{"field":"l","type":"quantitative","scale":{"domain":[-6.5,136.5],"nice":false,"zero":false},"axis":{"title":"Daily number of new cases","values":[0,50,100]}},"y2":{"datum":0}}},
{"mark":{"type":"bar","width":1,"color":"#3d3d3d"},"encoding":{"x":{"field":"d","type":"temporal","scale":{"type":"utc","domain":[1582329600000,1606003200000],"nice":false,"padding":0},"axis":{"title":"Assumed date of infection","format":"%b","tickCount":"month"}},"y":{"field":"k","type":"quantitative","scale":{"domain":[-6.5,136.5],"nice":false,"zero":false},"axis":{"title":"Daily number of new cases","values":[0,50,100]}},"y2":{"datum":0}}}
]},
{"width":125,"height":109,"title":"Warren, KY","data":{"name":"rt"},"transform":[{"filter":"datum.c=='W'"}],
"layer":[
{"mark":{"type":"area","color":"#c8c8c8"},"encoding":{"x":{"field":"d","type":"temporal","scale":{"type":"utc","domain":[1582588800000,1606694400000],"nice":false},"axis":{"title":"Assumed date of infection","format":"%b","tickCount":"month"}},"y":{"field":"lo","type":"quantitative","scale":{"domain":[-0.2,4.2],"nice":false,"zero":false},"axis":{"title":"Rₜ","values":[0,1,2,3,4]}},"y2":{"field":"hi"}}},
{"mark":{"type":"line","color":"black","strokeWidth":1.1},"encoding":{"x":{"field":"d","type":"temporal","scale":{"type":"utc","domain":[1582588800000,1606694400000],"nice":false},"axis":{"title":"Assumed date of infection","format":"%b","tickCount":"month"}},"y":{"field":"v","type":"quantitative","scale":{"domain":[-0.2,4.2],"nice":false,"zero":false},"axis":{"title":"Rₜ","values":[0,1,2,3,4]}}}},
{"data":{"name":"one"},"mark":{"type":"rule","color":"#ff5a5a","strokeDash":[1,1.5],"strokeWidth":0.9},"encoding":{"y":{"field":"y","type":"quantitative","scale":{"domain":[-0.2,4.2],"nice":false,"zero":false},"axis":{"title":"Rₜ","values":[0,1,2,3,4]}}}}
]},
{"width":121,"height":109,"title":"Warren, KY",
"layer":[
{"data":{"name":"pol"},"transform":[{"filter":"datum.c=='W'"}],"mark":{"type":"rect","color":"#c8c8c8"},"encoding":{"x":{"field":"d","type":"temporal","scale":{"type":"utc","domain":[1582502400000,1605312000000],"nice":false},"axis":{"title":"Assumed date of infection","format":"%b","tickCount":"month"}},"x2":{"field":"e"},"y":{"field":"lo","type":"quantitative","scale":{"domain":[-0.2,4.2],"nice":false,"zero":false},"axis":{"title":"Policy Change Rₜ","values":[0,1,2,3,4]}},"y2":{"field":"hi"}}},
{"data":{"name":"pol"},"transform":[{"filter":"datum.c=='W'"}],"mark":{"type":"rule","color":"#333333","strokeWidth":1.2},"encoding":{"x":{"field":"d","type":"temporal","scale":{"type":"utc","domain":[1582502400000,1605312000000],"nice":false},"axis":{"title":"Assumed date of infection","format":"%b","tickCount":"month"}},"x2":{"field":"e"},"y":{"field":"est","type":"quantitative","scale":{"domain":[-0.2,4.2],"nice":false,"zero":false},"axis":{"title":"Policy Change Rₜ","values":[0,1,2,3,4]}}}},
{"data":{"name":"one"},"mark":{"type":"rule","color":"#ff5a5a","strokeDash":[1,1.5],"strokeWidth":0.9},"encoding":{"y":{"field":"y","type":"quantitative","scale":{"domain":[-0.2,4.2],"nice":false,"zero":false},"axis":{"title":"Policy Change Rₜ","values":[0,1,2,3,4]}}}},
{"data":{"name":"lab"},"mark":{"type":"rule","color":"#5a5aff","strokeDash":[1,1.5],"strokeWidth":0.9},"encoding":{"x":{"field":"d","type":"temporal","scale":{"type":"utc","domain":[1582502400000,1605312000000],"nice":false},"axis":{"title":"Assumed date of infection","format":"%b","tickCount":"month"}},"y":{"field":"ly","type":"quantitative","scale":{"domain":[-0.2,4.2],"nice":false,"zero":false},"axis":{"title":"Policy Change Rₜ","values":[0,1,2,3,4]}},"y2":{"datum":-0.2}}},
{"data":{"name":"lab"},"mark":{"type":"point","shape":"square","size":30,"filled":true,"fill":"white","stroke":"#8080ff","strokeWidth":0.7,"opacity":1},"encoding":{"x":{"field":"d","type":"temporal","scale":{"type":"utc","domain":[1582502400000,1605312000000],"nice":false},"axis":{"title":"Assumed date of infection","format":"%b","tickCount":"month"}},"y":{"field":"ly","type":"quantitative","scale":{"domain":[-0.2,4.2],"nice":false,"zero":false},"axis":{"title":"Policy Change Rₜ","values":[0,1,2,3,4]}}}},
{"data":{"name":"lab"},"mark":{"type":"text","fontSize":4,"fontWeight":"bold","color":"#3030e0","baseline":"middle","align":"center"},"encoding":{"x":{"field":"d","type":"temporal","scale":{"type":"utc","domain":[1582502400000,1605312000000],"nice":false},"axis":{"title":"Assumed date of infection","format":"%b","tickCount":"month"}},"y":{"field":"ly","type":"quantitative","scale":{"domain":[-0.2,4.2],"nice":false,"zero":false},"axis":{"title":"Policy Change Rₜ","values":[0,1,2,3,4]}},"text":{"field":"p"}}}
]}
]
}
